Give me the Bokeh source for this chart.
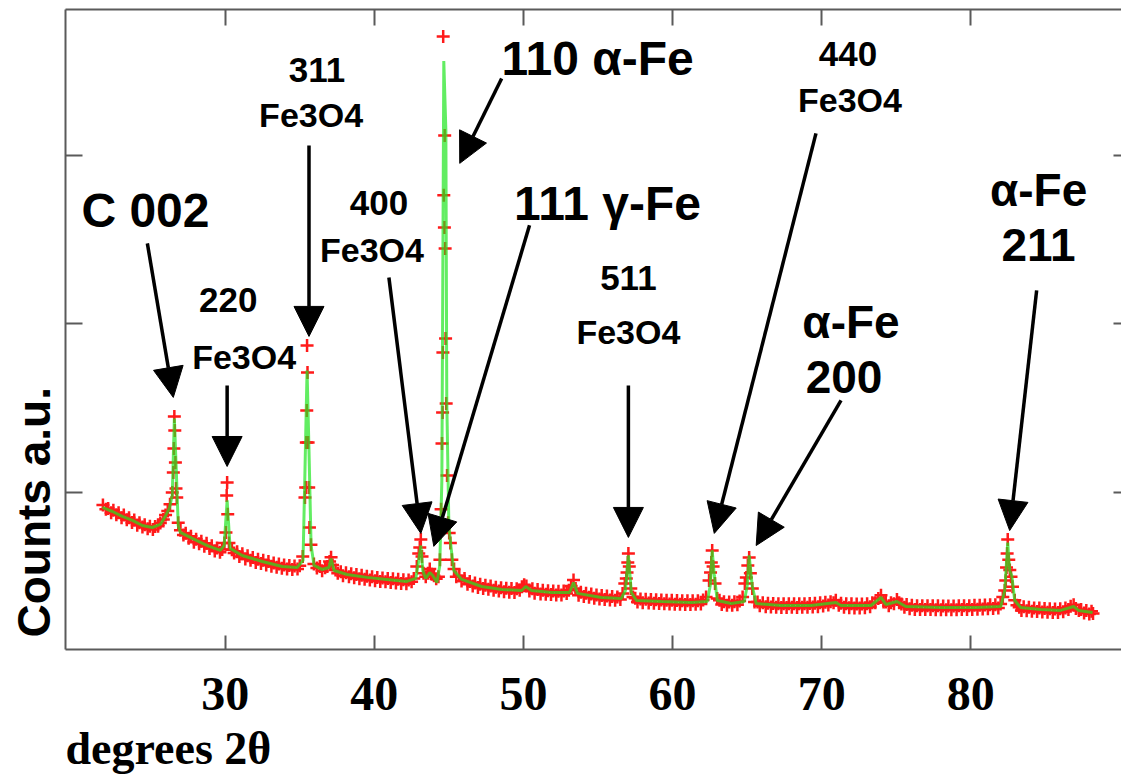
import math
from bokeh.plotting import figure
from bokeh.models import (Range1d, LinearAxis, FixedTicker, Arrow, NormalHead,
                          Label, ColumnDataSource, Title)
from bokeh.embed import file_html
from bokeh.resources import INLINE

# ---------------- data ----------------
x_ticks = [30, 40, 50, 60, 70, 80]
y_ticks = [1000, 2000, 3000]

# fitted profile (green line)
fit_two_theta = [21.77, 22.44, 23.10, 23.78, 24.44, 25.11, 25.65, 25.98, 26.25, 26.45,
                 26.59, 26.72, 26.85, 26.99, 27.79, 28.80, 29.67, 29.93, 30.13, 30.33,
                 31.14, 32.48, 33.82, 34.82, 35.22, 35.35, 35.49, 35.62, 35.76, 35.96,
                 36.49, 36.96, 37.10, 37.30, 38.17, 39.50, 40.84, 42.18, 42.78, 42.98,
                 43.12, 43.25, 43.45, 43.72, 43.92, 44.20, 44.39, 44.53, 44.66, 44.80,
                 44.86, 45.00, 45.13, 45.33, 45.86, 47.20, 48.54, 49.88, 50.15, 50.55,
                 51.89, 53.09, 53.36, 53.63, 55.23, 56.57, 56.84, 57.04, 57.24, 57.58,
                 59.25, 61.26, 62.33, 62.53, 62.66, 62.80, 63.00, 63.94, 64.81, 65.01,
                 65.14, 65.34, 65.61, 67.28, 69.29, 70.96, 71.30, 73.31, 73.98, 74.31,
                 75.05, 75.65, 77.99, 80.33, 82.01, 82.28, 82.48, 82.61, 82.75, 82.95,
                 83.35, 84.69, 86.02, 86.90, 87.23, 88.17]
fit_counts = [911, 887, 858, 834, 804, 792, 810, 858, 905, 982,
              1439, 1130, 804, 763, 727, 685, 656, 685, 953, 668,
              626, 590, 561, 555, 596, 1130, 1724, 1249, 685, 567,
              543, 555, 608, 537, 513, 496, 484, 472, 490, 596,
              685, 537, 490, 525, 507, 466, 567, 1071, 3560, 3148,
              1546, 804, 685, 537, 484, 442, 424, 418, 442, 418,
              406, 406, 466, 401, 377, 371, 418, 626, 406, 359,
              353, 347, 353, 448, 656, 507, 359, 341, 353, 448,
              626, 448, 341, 329, 329, 347, 329, 329, 377, 335,
              353, 323, 317, 317, 323, 418, 703, 537, 507, 359,
              317, 306, 300, 323, 300, 288]

# observed counts (red crosses)
obs_two_theta = [
    21.80, 22.00, 22.15, 22.35, 22.50, 22.70, 22.85, 23.05, 23.20, 23.40,
    23.55, 23.75, 23.90, 24.10, 24.25, 24.45, 24.60, 24.80, 24.95, 25.15,
    25.30, 25.50, 25.65, 25.85, 26.00, 26.15, 26.30, 26.45, 26.52, 26.56,
    26.59, 26.62, 26.66, 26.70, 26.75, 26.85, 27.00, 27.20, 27.35, 27.55,
    27.70, 27.90, 28.05, 28.25, 28.40, 28.60, 28.75, 28.95, 29.10, 29.30,
    29.45, 29.65, 29.80, 29.95, 30.05, 30.10, 30.13, 30.17, 30.25, 30.45,
    30.60, 30.80, 30.95, 31.15, 31.35, 31.50, 31.70, 31.85, 32.05, 32.20,
    32.40, 32.55, 32.75, 32.90, 33.10, 33.25, 33.45, 33.60, 33.80, 33.95,
    34.15, 34.30, 34.50, 34.65, 34.85, 35.00, 35.20, 35.35, 35.40, 35.44,
    35.47, 35.49, 35.52, 35.56, 35.60, 35.65, 35.75, 35.95, 36.15, 36.35,
    36.50, 36.70, 36.85, 37.00, 37.10, 37.20, 37.40, 37.55, 37.75, 37.90,
    38.10, 38.30, 38.45, 38.65, 38.80, 39.00, 39.15, 39.35, 39.50, 39.70,
    39.85, 40.05, 40.20, 40.40, 40.55, 40.75, 40.90, 41.10, 41.25, 41.45,
    41.60, 41.80, 41.95, 42.15, 42.30, 42.50, 42.65, 42.85, 42.98, 43.05,
    43.12, 43.20, 43.30, 43.45, 43.60, 43.72, 43.85, 44.00, 44.15, 44.30,
    44.40, 44.48, 44.54, 44.58, 44.60, 44.62, 44.66, 44.70, 44.72, 44.75,
    44.78, 44.82, 44.88, 44.95, 45.02, 45.10, 45.20, 45.35, 45.50, 45.70,
    45.85, 46.05, 46.25, 46.40, 46.60, 46.75, 46.95, 47.10, 47.30, 47.45,
    47.65, 47.80, 48.00, 48.15, 48.35, 48.50, 48.70, 48.85, 49.05, 49.20,
    49.40, 49.55, 49.75, 49.90, 50.05, 50.20, 50.40, 50.60, 50.75, 50.95,
    51.15, 51.30, 51.50, 51.65, 51.85, 52.00, 52.20, 52.35, 52.55, 52.70,
    52.90, 53.05, 53.20, 53.36, 53.50, 53.70, 53.85, 54.05, 54.20, 54.40,
    54.55, 54.75, 54.90, 55.10, 55.25, 55.45, 55.60, 55.80, 55.95, 56.15,
    56.30, 56.50, 56.65, 56.80, 56.90, 56.95, 57.00, 57.04, 57.10, 57.20,
    57.35, 57.50, 57.65, 57.85, 58.00, 58.20, 58.40, 58.55, 58.75, 58.90,
    59.10, 59.25, 59.45, 59.60, 59.80, 59.95, 60.15, 60.30, 60.50, 60.65,
    60.85, 61.00, 61.20, 61.35, 61.55, 61.70, 61.90, 62.05, 62.25, 62.45,
    62.55, 62.60, 62.66, 62.72, 62.85, 63.00, 63.15, 63.30, 63.45, 63.65,
    63.80, 64.00, 64.15, 64.35, 64.50, 64.70, 64.85, 64.95, 65.05, 65.14,
    65.22, 65.35, 65.50, 65.70, 65.85, 66.05, 66.25, 66.40, 66.60, 66.75,
    66.95, 67.10, 67.30, 67.45, 67.65, 67.80, 68.00, 68.15, 68.35, 68.50,
    68.70, 68.85, 69.05, 69.20, 69.40, 69.55, 69.75, 69.90, 70.10, 70.25,
    70.45, 70.60, 70.80, 70.95, 71.15, 71.30, 71.50, 71.65, 71.85, 72.00,
    72.20, 72.35, 72.55, 72.70, 72.90, 73.05, 73.25, 73.40, 73.60, 73.80,
    73.98, 74.15, 74.30, 74.50, 74.65, 74.85, 75.05, 75.20, 75.35, 75.55,
    75.70, 75.90, 76.05, 76.25, 76.40, 76.60, 76.75, 76.95, 77.10, 77.30,
    77.45, 77.65, 77.80, 78.00, 78.15, 78.35, 78.50, 78.70, 78.85, 79.05,
    79.20, 79.40, 79.55, 79.75, 79.90, 80.10, 80.25, 80.45, 80.60, 80.80,
    80.95, 81.15, 81.30, 81.50, 81.65, 81.85, 82.00, 82.15, 82.28, 82.35,
    82.40, 82.44, 82.48, 82.55, 82.62, 82.70, 82.80, 82.95, 83.10, 83.25,
    83.40, 83.55, 83.75, 83.90, 84.10, 84.25, 84.45, 84.60, 84.80, 84.95,
    85.15, 85.30, 85.50, 85.65, 85.85, 86.00, 86.20, 86.35, 86.55, 86.70,
    86.90, 87.05, 87.25, 87.40, 87.60, 87.75, 87.95, 88.10, 88.20]
obs_counts = [
    925, 900, 905, 880, 895, 868, 880, 850, 866, 838,
    850, 822, 836, 805, 820, 795, 808, 785, 800, 780,
    798, 800, 818, 840, 866, 890, 930, 1000, 1119, 1261,
    1451, 1368, 1178, 1024, 970, 820, 775, 748, 758, 728,
    740, 705, 722, 695, 710, 680, 698, 668, 684, 652,
    670, 645, 662, 700, 763, 982, 1059, 870, 700, 660,
    640, 648, 620, 636, 605, 624, 598, 614, 585, 604,
    578, 597, 570, 590, 562, 582, 556, 575, 550, 570,
    545, 566, 543, 563, 545, 565, 620, 970, 1030, 1297,
    1487, 1872, 1712, 1297, 1030, 792, 690, 575, 552, 560,
    535, 553, 560, 590, 615, 570, 540, 520, 530, 505,
    523, 500, 518, 494, 513, 488, 508, 485, 503, 480,
    499, 476, 496, 472, 492, 470, 490, 466, 488, 462,
    485, 460, 482, 458, 480, 470, 490, 560, 638, 674,
    721, 620, 520, 500, 520, 545, 515, 505, 488, 500,
    600, 900, 1291, 1475, 1831, 3706, 2763, 2573, 3119, 2448,
    1914, 1528, 1100, 820, 760, 700, 600, 545, 500, 505,
    475, 490, 455, 472, 445, 462, 436, 455, 430, 450,
    425, 445, 420, 438, 415, 434, 410, 432, 408, 430,
    406, 428, 420, 440, 452, 445, 415, 428, 402, 424,
    398, 420, 396, 417, 394, 415, 392, 414, 392, 415,
    400, 420, 445, 480, 430, 390, 408, 383, 402, 378,
    398, 372, 392, 368, 388, 364, 385, 362, 382, 360,
    380, 365, 400, 460, 490, 525, 585, 638, 560, 430,
    380, 372, 350, 368, 345, 366, 344, 364, 342, 363,
    341, 362, 340, 361, 338, 360, 337, 359, 336, 358,
    335, 357, 335, 357, 336, 358, 338, 362, 380, 478,
    525, 585, 656, 560, 460, 370, 360, 335, 352, 330,
    350, 330, 352, 334, 356, 380, 460, 496, 567, 614,
    520, 430, 350, 350, 328, 346, 322, 343, 320, 341,
    318, 340, 317, 339, 317, 340, 318, 340, 317, 340,
    318, 340, 318, 341, 320, 342, 322, 345, 326, 348,
    332, 352, 345, 360, 330, 342, 318, 340, 316, 339,
    315, 338, 315, 338, 316, 340, 322, 345, 345, 370,
    390, 350, 350, 328, 345, 340, 365, 345, 338, 318,
    335, 310, 330, 306, 328, 305, 328, 305, 327, 305,
    327, 304, 327, 304, 326, 304, 326, 304, 326, 304,
    327, 305, 328, 305, 328, 306, 330, 307, 331, 308,
    332, 310, 333, 311, 334, 315, 338, 380, 418, 478,
    555, 638, 721, 600, 540, 500, 440, 360, 330, 318,
    300, 322, 298, 318, 295, 315, 293, 314, 291, 312,
    289, 310, 288, 309, 288, 310, 292, 315, 305, 325,
    333, 312, 300, 305, 285, 300, 278, 295, 282]

# peak annotations: text, position, font size
label_texts = ["C 002", "220", "Fe3O4", "311", "Fe3O4", "400", "Fe3O4",
               "110 \u03b1-Fe", "111 \u03b3-Fe", "511", "Fe3O4", "440", "Fe3O4",
               "\u03b1-Fe", "200", "\u03b1-Fe", "211"]
label_x = [24.65, 30.20, 31.27, 36.16, 35.76, 40.31, 39.84,
           54.97, 55.64, 57.04, 57.04, 71.77, 71.90,
           71.97, 71.50, 84.55, 84.55]
label_y = [2674, 2140, 1801, 3505, 3237, 2715, 2436,
           3576, 2715, 2270, 1950, 3600, 3327,
           2009, 1688, 2793, 2466]
label_size = ["48px", "35px", "34px", "35px", "34px", "35px", "34px",
              "48px", "48px", "35px", "34px", "35px", "34px",
              "46px", "46px", "46px", "46px"]

# arrows from label to peak
arrow_x0 = [24.78, 30.13, 35.62, 40.98, 48.54, 50.41, 57.04, 69.62, 71.30, 84.42]
arrow_y0 = [2478, 1635, 3059, 2276, 3457, 2585, 1635, 3131, 1546, 2199]
arrow_x1 = [26.52, 30.13, 35.62, 43.12, 45.73, 43.99, 57.04, 62.80, 65.61, 82.61]
arrow_y1 = [1564, 1154, 1926, 757, 2953, 680, 733, 757, 685, 774]

x_title = "degrees 2\u03b8"
y_title = "Counts a.u."

# ---------------- figure ----------------
p = figure(width=1121, height=784,
           x_range=Range1d(19.29, 90.11), y_range=Range1d(68, 3866),
           x_axis_type=None, y_axis_type=None,
           output_backend="svg", toolbar_location=None,
           min_border_left=63, min_border_right=0,
           min_border_top=9, min_border_bottom=135)
p.outline_line_color = None
p.background_fill_color = "white"
p.border_fill_color = "white"

AX = "#5a5a5a"

def make_axis(ticks, tick_in, labels=False):
    ax = LinearAxis(ticker=FixedTicker(ticks=ticks))
    ax.major_tick_in = tick_in
    ax.major_tick_out = 0
    ax.minor_tick_line_color = None
    ax.major_tick_line_color = AX
    ax.major_tick_line_width = 2
    ax.axis_line_color = AX
    ax.axis_line_width = 2
    if not labels:
        ax.major_label_overrides = {t: "" for t in ticks}
        ax.major_label_text_font_size = "1px"
        ax.major_label_standoff = 0
    return ax

xb = make_axis(x_ticks, 14, labels=True)
xb.major_label_text_font = "Liberation Serif"
xb.major_label_text_font_style = "bold"
xb.major_label_text_font_size = "48px"
xb.major_label_text_color = "black"
xb.major_label_standoff = 28
p.add_layout(xb, "below")

xt = make_axis(x_ticks, 16)
p.add_layout(xt, "above")

yl = make_axis(y_ticks, 17)
p.add_layout(yl, "left")

yr = make_axis(y_ticks, 8)
yr.axis_line_color = None
p.add_layout(yr, "right")

# axis titles as side titles
p.add_layout(Title(text=x_title, align="left", standoff=17,
                   text_font="Liberation Serif", text_font_style="bold",
                   text_font_size="46px", text_color="black"), "below")
p.add_layout(Title(text=y_title, align="left", standoff=11, offset=12,
                   text_font="Liberation Sans", text_font_style="bold",
                   text_font_size="46px", text_color="black"), "left")

# observed data and fit
p.scatter(obs_two_theta, obs_counts, marker="cross", size=13, line_width=2.5,
          color="#ff1a1a")
p.line(fit_two_theta, fit_counts, line_color="#1fe61f", line_width=3, line_alpha=0.7)

# arrows
asrc = ColumnDataSource(dict(x0=arrow_x0, y0=arrow_y0, x1=arrow_x1, y1=arrow_y1))
p.add_layout(Arrow(source=asrc, x_start="x0", y_start="y0", x_end="x1", y_end="y1",
                   line_width=3.5, line_color="black",
                   end=NormalHead(size=30, fill_color="black", line_color="black",
                                  line_width=1)))

# peak labels
for t, x, y, s in zip(label_texts, label_x, label_y, label_size):
    p.add_layout(Label(x=x, y=y, text=t, text_align="center", text_baseline="middle",
                       text_font="Liberation Sans", text_font_style="bold",
                       text_font_size=s, text_color="black"))

open("out.html", "w").write(file_html(p, INLINE))
